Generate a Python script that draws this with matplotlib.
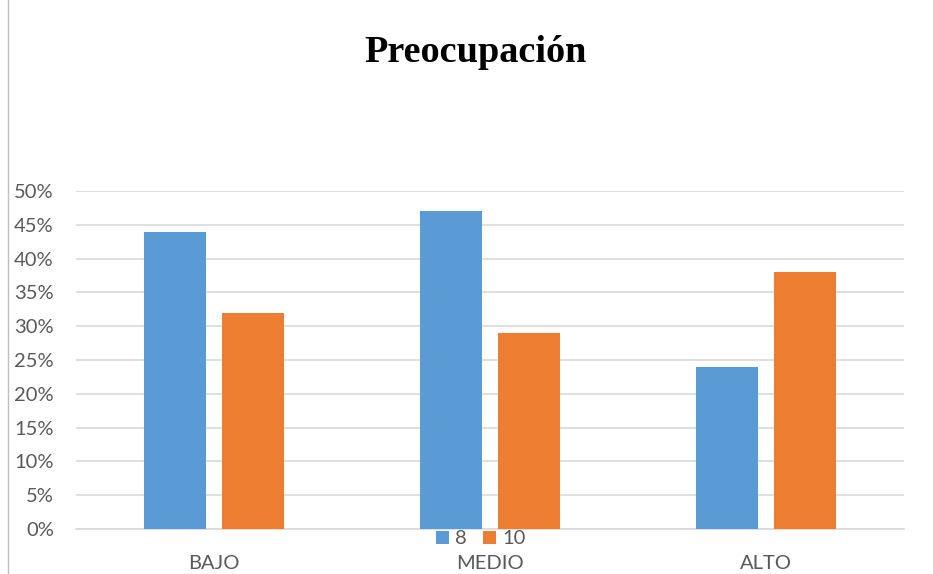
import matplotlib
matplotlib.use("Agg")
import matplotlib.pyplot as plt
import numpy as np
from matplotlib.lines import Line2D

categories = ["BAJO", "MEDIO", "ALTO"]
series_names = ["8", "10"]
vals_8 = [44, 47, 24]
vals_10 = [32, 29, 38]
yticks = [0, 5, 10, 15, 20, 25, 30, 35, 40, 45, 50]

W, H = 933, 574
fig = plt.figure(figsize=(W/100, H/100), dpi=100)
ax = fig.add_axes([76/W, 1-529/H, 828/W, (529-191)/H])

x = np.arange(len(categories))
bw = 0.225
off = 0.141
ax.bar(x - off, vals_8, bw, color="#5B9BD5", label=series_names[0], zorder=3)
ax.bar(x + off, vals_10, bw, color="#ED7D31", label=series_names[1], zorder=3)

ax.set_xlim(-0.5, 2.5)
ax.set_ylim(0, 50)
ax.set_yticks(yticks)
ax.set_yticklabels([f"{t}%" for t in yticks])
ax.set_xticks(x)
ax.set_xticklabels(categories)
ax.grid(axis="y", color="#D9D9D9", linewidth=1.2, zorder=0)
for s in ["top", "right", "left"]:
    ax.spines[s].set_visible(False)
ax.spines["bottom"].set_color("#D9D9D9")
ax.spines["bottom"].set_linewidth(1.2)
ax.tick_params(axis="both", length=0, labelsize=14.5, colors="#595959")
ax.tick_params(axis="y", pad=16)
ax.tick_params(axis="x", pad=19)
for lbl in ax.get_xticklabels() + ax.get_yticklabels():
    lbl.set_fontfamily("Lato")

fig.text(476/W, 1-53/H, "Preocupación", ha="center", va="center",
         fontsize=27.5, fontweight="bold", family="Liberation Serif")

leg = fig.legend(loc="center", bbox_to_anchor=(481/W, 1-539/H), ncol=2, frameon=False,
                 prop={"family": "Lato", "size": 14.5}, handlelength=0.65, handleheight=0.65,
                 handletextpad=0.3, columnspacing=0.8, borderpad=0)
for t in leg.get_texts():
    t.set_color("#595959")

fig.add_artist(Line2D([8/W, 8/W], [0, 1], transform=fig.transFigure, color="#BFBFBF", linewidth=1))

fig.savefig("out.png", dpi=100)
